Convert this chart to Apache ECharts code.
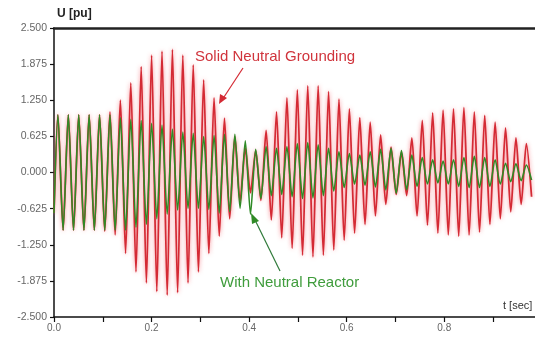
<!DOCTYPE html>
<html>
<head>
<meta charset="utf-8">
<script src="https://cdn.jsdelivr.net/npm/echarts@6/dist/echarts.min.js"></script>
<style>html,body{margin:0;padding:0;background:#fff}#c{width:535px;height:341px}</style>
</head>
<body>
<div id="c"></div>
<script>
// Extremes of each half-cycle (pu)
const redPeaks = [
  1.0,-1.0,1.0,-1.0,1.0,-1.0,1.0,-1.0,1.0,-1.02,
  1.05,-1.08,1.25,-1.4,1.55,-1.72,1.83,-1.91,2.03,-2.06,
  2.1,-2.12,2.13,-2.08,2.03,-1.91,1.86,-1.72,1.6,-1.4,
  1.29,-1.1,0.94,-0.8,0.62,-0.5,0.42,-0.35,0.38,-0.48,
  0.73,-0.82,1.05,-1.13,1.29,-1.31,1.43,-1.43,1.5,-1.46,
  1.5,-1.43,1.4,-1.34,1.27,-1.17,1.1,-1.05,0.95,-0.9,
  0.87,-0.75,0.65,-0.55,0.44,-0.38,0.35,-0.4,0.6,-0.75,
  0.9,-0.91,1.03,-1.05,1.08,-1.08,1.1,-1.1,1.12,-1.08,
  1.05,-1.03,0.99,-0.9,0.87,-0.8,0.77,-0.68,0.6,-0.55,
  0.5,-0.42
];
const greenPeaks = [
  1.0,-1.0,1.0,-1.0,1.0,-1.0,1.0,-1.0,1.0,-1.0,
  1.0,-1.0,0.95,-1.0,0.92,-0.95,0.9,-0.9,0.85,-0.8,
  0.82,-0.72,0.75,-0.65,0.7,-0.62,0.68,-0.62,0.62,-0.64,
  0.64,-0.7,0.66,-0.68,0.66,-0.62,0.55,-0.72,0.4,-0.45,
  0.45,-0.4,0.42,-0.38,0.45,-0.42,0.5,-0.45,0.52,-0.44,
  0.48,-0.4,0.42,-0.32,0.36,-0.26,0.33,-0.2,0.3,-0.22,
  0.36,-0.25,0.4,-0.3,0.42,-0.36,0.38,-0.3,0.3,-0.24,
  0.26,-0.2,0.22,-0.18,0.2,-0.2,0.22,-0.24,0.26,-0.26,
  0.28,-0.26,0.26,-0.24,0.22,-0.2,0.16,-0.16,0.15,-0.14,
  0.13,-0.13
];
const startValue = -0.7;          // value at t = 0 (both traces)
const firstPeakTime = 0.008;      // s
const halfPeriod = 0.01067;       // s (sampling grid of the extremes)

function build(peaks){
  const d = [[0, startValue]];
  peaks.forEach((v,k)=>d.push([+(firstPeakTime + k*halfPeriod).toFixed(5), v]));
  return d;
}

const chart = echarts.init(document.getElementById('c'), null, {renderer:'canvas'});
const FF = 'Liberation Sans, Arial, sans-serif';
chart.setOption({
  animation:false,
  backgroundColor:'#fff',
  grid:{left:54, right:0, top:28, bottom:24, containLabel:false},
  xAxis:[{
    type:'value', min:0, max:0.986, interval:0.1,
    axisLine:{show:true, onZero:false, lineStyle:{color:'#111', width:1.5}},
    axisTick:{show:true, length:5, lineStyle:{color:'#111', width:1.2}},
    splitLine:{show:false},
    axisLabel:{margin:6, showMaxLabel:false, fontFamily:FF, fontSize:10, color:'#666',
      formatter:v=>{const n=Math.round(v*10); return n%2===0 ? (n/10).toFixed(1) : '';}}
  },{
    type:'value', position:'top', min:0, max:0.986,
    axisLine:{show:true, onZero:false, lineStyle:{color:'#222', width:2.5}},
    axisTick:{show:false}, axisLabel:{show:false}, splitLine:{show:false}
  }],
  yAxis:{
    type:'value', min:-2.5, max:2.5, interval:0.625,
    axisLine:{show:true, onZero:false, lineStyle:{color:'#111', width:1.5}},
    axisTick:{show:true, length:4, lineStyle:{color:'#111', width:1.2}},
    splitLine:{show:false},
    axisLabel:{margin:7, fontFamily:FF, fontSize:10.5, color:'#666', formatter:v=>v.toFixed(3)}
  },
  series:[{
    type:'line', name:'Solid Neutral Grounding', data:build(redPeaks),
    showSymbol:false, smooth:0.25,
    lineStyle:{color:'#d42a34', width:1.8, shadowColor:'rgba(245,110,120,0.85)', shadowBlur:4},
    z:2
  },{
    type:'line', name:'With Neutral Reactor', data:build(greenPeaks),
    showSymbol:false, smooth:0.25,
    lineStyle:{color:'#2f8a26', width:1.6},
    z:3
  }],
  graphic:[
    {type:'text', left:57, top:8, style:{text:'U [pu]', font:'bold 12px '+FF, fill:'#222'}},
    {type:'text', left:503, top:300, style:{text:'t [sec]', font:'11px '+FF, fill:'#333'}},
    {type:'text', left:195, top:49, style:{text:'Solid Neutral Grounding', font:'15px '+FF, fill:'#d0343c'}, z:10},
    {type:'line', shape:{x1:243, y1:68, x2:224, y2:97}, style:{stroke:'#d42a34', lineWidth:1.2}, z:10},
    {type:'polygon', shape:{points:[[219,104],[220,94],[227,98]]}, style:{fill:'#d42a34'}, z:10},
    {type:'text', left:220, top:275, style:{text:'With Neutral Reactor', font:'15px '+FF, fill:'#3f9c3c'}, z:10},
    {type:'line', shape:{x1:280, y1:271, x2:256, y2:222}, style:{stroke:'#2f7a3a', lineWidth:1.2}, z:10},
    {type:'polygon', shape:{points:[[251,213],[252,224],[259,221]]}, style:{fill:'#2f8a26'}, z:10}
  ]
});
</script>
</body>
</html>
